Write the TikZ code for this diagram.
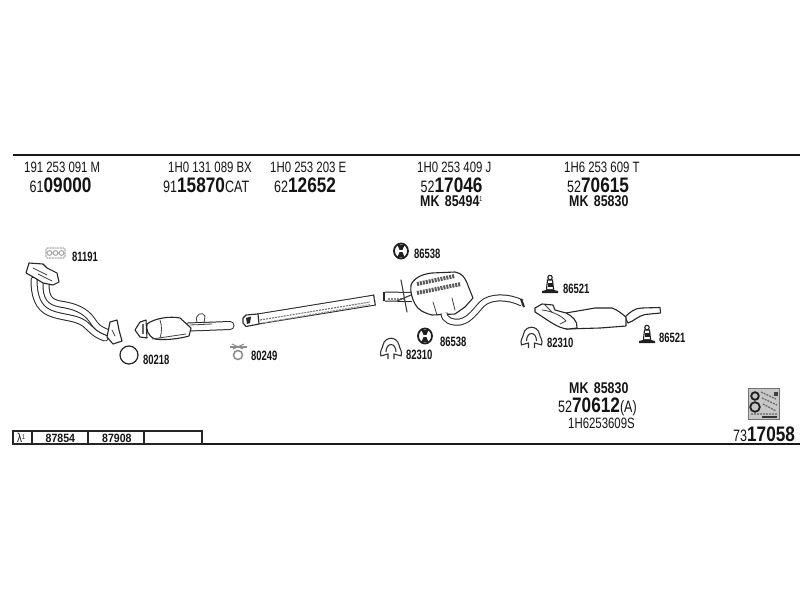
\documentclass[tikz,border=0pt]{standalone}
\usepackage{fontspec}
\setmainfont{Liberation Sans}
\newfontfamily\nar[FakeStretch=0.76]{Liberation Sans}
\newfontfamily\numb[FakeStretch=0.82]{Liberation Sans Bold}
\newfontfamily\mkf[FakeStretch=0.8]{Liberation Sans Bold}
\newfontfamily\lab[FakeStretch=0.7]{Liberation Sans Bold}
\newfontfamily\tabf[FakeStretch=0.88]{Liberation Sans Bold}
\newcommand{\pn}[2]{{\nar\fontsize{16.5}{17}\selectfont #1}{\numb\fontsize{21}{22}\selectfont #2}}
\tikzset{
 txt/.style={inner sep=0pt,anchor=base west,text=black!92},
 hdr/.style={txt,font=\nar\fontsize{15}{16}\selectfont},
 mk/.style={txt,font=\mkf\fontsize{15.5}{16}\selectfont},
 lbl/.style={txt,font=\lab\fontsize{13.5}{14}\selectfont},
 tbl/.style={txt,font=\tabf\fontsize{12}{12}\selectfont},
 rule/.style={line width=1.5pt,black!90},
 pipe/.style={double=white,draw=black!85,line width=1pt,double distance=#1,line cap=round},
 pipe/.default=6pt,
 part/.style={draw=black!85,fill=white,line width=1.1pt,line join=round},
 thin part/.style={draw=black!75,line width=.8pt,line cap=round},
 stripe/.style={draw=black!55,line width=1.1pt,dash pattern=on 2pt off 1pt},
 band/.style={draw=black!65,line width=4pt,dash pattern=on 2pt off 1pt},
}
\newcommand{\clampicon}{%
\draw[black!80,fill=white,line width=1.1pt,line join=round] (-10,7) .. controls (-12,2) and (-8,-1) .. (-8,-4) .. controls (-6,-13) and (6,-13) .. (8,-4) .. controls (8,-1) and (12,2) .. (10,7);
\draw[black!80,line width=1.1pt] (-5,3) .. controls (-5,-7) and (5,-7) .. (5,3);
\draw[black!80,line width=1.1pt] (-10.5,7) -- (-3,5) -- (-3,10) (10.5,7) -- (3,5) -- (3,10);}
\newcommand{\ringicon}{%
\draw[black!88,fill=white,line width=1.8pt] (0,0) ellipse (7 and 7.5);
\fill[black!88] (-3.5,-6) -- (3.5,-6) -- (1.5,-1.2) -- (-1.5,-1.2) -- cycle;
\fill[black!88] (-3.5,6) -- (3.5,6) -- (1.5,1.2) -- (-1.5,1.2) -- cycle;}
\newcommand{\mounticon}{%
\fill[black!88] (-8,0) -- (8,0) -- (8,-2) -- (4,-3) -- (4,-5) -- (-4,-5) -- (-4,-3) -- (-8,-2) -- cycle;
\draw[black!88,fill=white,line width=1.1pt] (-3.5,-4) -- (-2.5,-13) -- (2.5,-13) -- (3.5,-4);
\fill[black!88] (-2.5,-10) rectangle (2.5,-6);
\draw[black!88,fill=white,line width=1.1pt] (0,-15.5) circle (2.2);}
\begin{document}
\begin{tikzpicture}[x=1pt,y=-1pt]
\useasboundingbox (0,0) rectangle (800,600);
\fill[white] (0,0) rectangle (800,600);
% rules and table
\coordinate (tl) at (13,155); \coordinate (tr) at (800,155);
\coordinate (bl) at (13,444); \coordinate (br) at (800,444);
\draw[rule] (tl) -- (tr);
\draw[rule] (bl) -- (br);
\draw[line width=1.1pt,black!85] (13,431) rectangle (202,444);
\foreach \x in {32,88,144} \draw[line width=1.1pt,black!85] (\x,431) -- (\x,444);
\node[txt,font=\nar\fontsize{13}{13}\selectfont] (lam) at (17,442) {λ\raisebox{3pt}{\fontsize{7}{7}\selectfont 1}};
\node[tbl] (t1) at (45.5,442) {87854};
\node[tbl] (t2) at (102,442) {87908};
% header
\node[hdr] (h1) at (24,172.5) {191 253 091 M};
\node[hdr] (h2) at (168,172.5) {1H0 131 089 BX};
\node[hdr] (h3) at (270,172.5) {1H0 253 203 E};
\node[hdr] (h4) at (417,172.5) {1H0 253 409 J};
\node[hdr] (h5) at (564,172.5) {1H6 253 609 T};
\node[txt] (n1) at (29.5,192) {\pn{61}{09000}};
\node[txt] (n2) at (163,192) {\pn{91}{15870}{\nar\fontsize{16.5}{17}\selectfont CAT}};
\node[txt] (n3) at (274,192) {\pn{62}{12652}};
\node[txt] (n4) at (420.5,192) {\pn{52}{17046}};
\node[txt] (n5) at (567,192) {\pn{52}{70615}};
\node[mk] (m4) at (420,206.5) {MK\hspace{2pt} 85494\raisebox{5pt}{\nar\fontsize{7}{7}\selectfont 1}};
\node[mk] (m5) at (569,206.5) {MK\hspace{2pt} 85830};
\node[mk] (m6) at (569,393) {MK\hspace{2pt} 85830};
\node[txt] (n6) at (558,412.5) {\pn{52}{70612}{\nar\fontsize{16.5}{17}\selectfont (A)}};
\node[hdr] (h6) at (568,428) {1H6253609S};
\node[txt] (n7) at (733,441) {\pn{73}{17058}};
% part labels
\node[lbl] (a) at (72,261) {81191};
\node[lbl] (b) at (143,364) {80218};
\node[lbl] (c) at (251,360) {80249};
\node[lbl] (d) at (414,258) {86538};
\node[lbl] (e) at (440,346) {86538};
\node[lbl] (f) at (406,359) {82310};
\node[lbl] (g) at (563,293) {86521};
\node[lbl] (h) at (547,347) {82310};
\node[lbl] (i) at (659,342) {86521};
% gasket 81191
\draw[black!32,line width=1.3pt,rounded corners=1.5pt,dash pattern=on 2pt off .7pt] (46,248) rectangle (65,258);
\draw[black!32,line width=1.1pt] (49.5,253) circle (2.4) (55.5,253) circle (2.4) (61.5,253) circle (2.4);
% manifold
\draw[pipe=5pt] (34,280) .. controls (34,296) and (38,308) .. (50,313) .. controls (62,318) and (76,317) .. (85,324) .. controls (92,330) and (94,334) .. (105,338);
\draw[pipe=5pt] (46,284) .. controls (46,298) and (50,302) .. (60,304) .. controls (74,306) and (85,310) .. (92,320) .. controls (96,326) and (98,329) .. (109,333);
\draw[part] (26,273) -- (29,263) -- (43,264) -- (47,268) -- (57,273) -- (59,282) -- (53,285) -- (43,283) -- (35,278) -- cycle;
\draw[thin part] (33,268) -- (47,275) (38,274) -- (52,281);
\draw[part] (107,337) -- (110,322) -- (117,320) -- (119,330) -- (122,341) -- (113,344) -- cycle;
\draw[thin part] (112,330) -- (115,336);
% seal
\draw[black!85,line width=1.2pt] (129,355) circle (9);
% catalyst
\draw[pipe=7pt] (188,327) -- (230,325.5);
\draw[part] (147,324) .. controls (155,318) and (170,316) .. (180,318) -- (191,328) -- (189,336) .. controls (175,340) and (160,340) .. (155,339) .. controls (148,336) and (146,330) .. (147,324) -- cycle;
\draw[thin part] (160,320) .. controls (162,326) and (162,332) .. (160,338);
\draw[thin part] (152,339) -- (186,334) (190,325) -- (212,324);
\draw[part] (135,330) -- (140,322) -- (146,320) -- (147,338) -- (140,337) -- cycle;
\draw[black!60,line width=2pt] (143,324) -- (143,334);
\draw[thin part] (197,322) .. controls (194,314) and (203,311) .. (205,316) -- (204,323);
% front pipe
\draw[pipe=9pt,line cap=butt] (258,319) -- (375,300);
\draw[black!85,line width=1pt] (373.5,294.6) -- (375.3,305.2);
\draw[stripe] (260,320) -- (370,302);
\draw[stripe,black!40] (262,323) -- (370,304.5);
\draw[part] (243,318) -- (246,315) -- (258,314) -- (259,324) -- (246,326.5) -- (243,323) -- cycle;
\fill[black!85] (246,318) -- (251,316.5) -- (250,323) -- (247,324) -- cycle;
% clamp 80249
\draw[black!45,line width=1.2pt] (230,347) -- (247,347);
\draw[black!45,line width=1.5pt] (238,355) circle (4.5);
\draw[black!45,line width=1pt] (232,344) -- (243,349) (244,344) -- (233,349);
% middle muffler
\draw[pipe=8pt,line cap=butt] (385,296.5) -- (412,297);
\draw[black!85,line width=1.6pt] (384,292) -- (384,301);
\draw[stripe,black!45] (388,299) -- (405,299);
\draw[thin part,line width=1.1pt] (401,280) -- (407,312);
\draw[thin part,line width=1.1pt] (397,301) -- (411,295);
\draw[part] (411,285) .. controls (414,278) and (422,274) .. (432,273) -- (455,272) .. controls (462,273) and (465,278) .. (467,283) -- (473,298) -- (465,307) -- (455,314) -- (432,315) .. controls (424,313) and (418,310) .. (415,304) .. controls (412,298) and (410,292) .. (411,285) -- cycle;
\draw[band] (417,284) -- (455,276);
\draw[band] (417,293) -- (461,284);
\draw[thin part] (433,302) -- (437,315);
\draw[thin part] (452,298) -- (455,310);
\draw[pipe=5pt,line cap=butt] (444,313) .. controls (444,320) and (452,323) .. (460,322) .. controls (470,320) and (476,310) .. (482,304) .. controls (490,296) and (508,296) .. (522,303);
\draw[black!85,line width=2pt] (521,299) -- (524,307);
% rings 86538
\begin{scope}[shift={(401,251)}]\ringicon\end{scope}
\begin{scope}[shift={(425,336)}]\ringicon\end{scope}
% clamps 82310
\begin{scope}[shift={(391,349)}]\clampicon\end{scope}
\begin{scope}[shift={(531.5,338)}]\clampicon\end{scope}
% mounts 86521
\begin{scope}[shift={(550,293)}]\mounticon\end{scope}
\begin{scope}[shift={(647,343)}]\mounticon\end{scope}
% rear muffler
\draw[part] (625,317) .. controls (630,312) and (635,308) .. (642,308) -- (660,307.5) -- (660.5,313) -- (645,314.5) .. controls (638,316) and (634,321) .. (628,323) -- cycle;
\draw[part] (566,313) -- (595,308) -- (612,308) .. controls (618,310) and (622,314) .. (626,317) -- (626,326) -- (600,328) -- (566,329) -- cycle;
\draw[part] (535,308) -- (542,304) -- (553,305) -- (555,310) -- (566,313) .. controls (572,316) and (578,321) .. (577,328) -- (568,329) .. controls (558,329) and (545,318) .. (535,312) -- cycle;
\draw[thin part] (542,310) .. controls (552,311) and (562,316) .. (566,321) -- (560,324);
\draw[thin part] (545,305) -- (552,312);
% icon
\node[draw=black!55,fill=black!22,line width=1pt,minimum width=31pt,minimum height=31pt,inner sep=0pt] (kit) at (764,404) {};
\draw[black!88,line width=1.8pt] (755,396) circle (3.8) (755,407) circle (4.8);
\draw[black!60,line width=1.2pt,dash pattern=on 2pt off 1pt] (761,392) -- (776,399) (762,398) -- (777,405) (763,404) -- (776,411) (751,414) -- (777,414);
\draw[black!80,line width=1.2pt] (762,417) -- (777,417);
\fill[black!75] (774,392) rectangle (777.5,396);
\end{tikzpicture}
\end{document}
